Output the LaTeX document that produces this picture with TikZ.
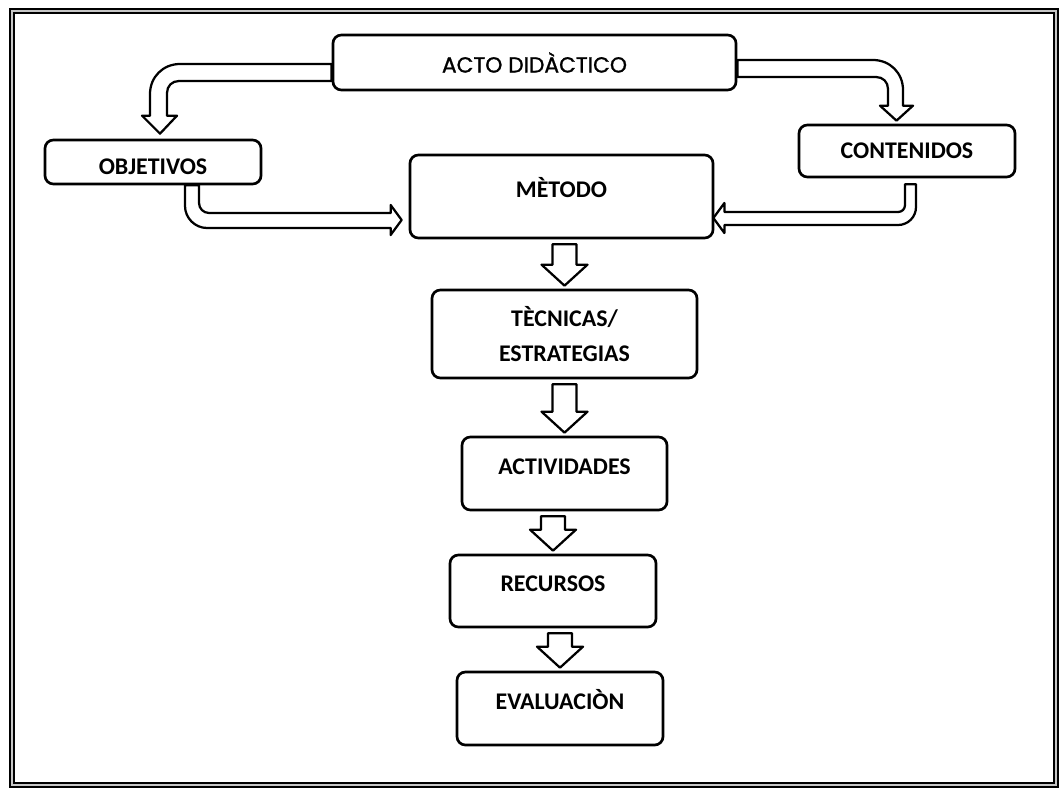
\documentclass[tikz,border=0pt]{standalone}
\usepackage{fontspec}
\setmainfont{Carlito}
\newfontfamily\actofont{Poppins}[FakeBold=1.2]
\usetikzlibrary{calc}

\tikzset{
    box/.style={draw, line width=1.9pt, rounded corners=6pt, align=center, inner sep=0pt,
        font=\bfseries\fontsize{17}{25.5}\selectfont},
    raised/.style={text height=11pt, text depth=10pt},
    lowered/.style={text height=18pt, text depth=0pt},
    blockarrow/.style={draw, fill=white, line width=1.6pt, line join=round},
    frame/.style={draw=black, line width=1.2pt, double=gray!45, double distance=1.6pt}
}

% straight hollow arrow pointing down from #1 to #2
\newcommand{\downblock}[2]{%
    \draw[blockarrow] ($(#2.north |- #1.south)+(-12,5)$) -- ($(#2.north)+(-12,-24)$)
        -- ++(-11,0) -- ($(#2.north)+(0,-3)$) -- ($(#2.north)+(23,-24)$) -- ++(-11,0)
        -- ($(#2.north |- #1.south)+(12,5)$) -- cycle;
}

\begin{document}
\begin{tikzpicture}[x=0.025cm, y=-0.025cm]
    \useasboundingbox (0,0) rectangle (1062,789);
    \draw[frame] (12,11) rectangle (1056,785);

    \node[box, minimum width=10.075cm, minimum height=1.375cm,
        font=\actofont\fontsize{15.5}{18}\selectfont] (acto) at (534.5,62.5) {ACTO DID\`ACTICO};
    \node[box, lowered, minimum width=5.4cm, minimum height=1.1cm] (obj) at (153,162) {OBJETIVOS};
    \node[box, minimum width=5.4cm, minimum height=1.3cm] (cont) at (907,151) {CONTENIDOS};
    \node[box, raised, minimum width=7.575cm, minimum height=2.075cm] (met) at (561.5,196.5) {M\`ETODO};
    \node[box, minimum width=6.625cm, minimum height=2.2cm] (tec) at (564.5,334) {T\`ECNICAS/\\ESTRATEGIAS};
    \node[box, raised, minimum width=5.125cm, minimum height=1.825cm] (act) at (564.5,473.5) {ACTIVIDADES};
    \node[box, raised, minimum width=5.15cm, minimum height=1.8cm] (rec) at (553,591) {RECURSOS};
    \node[box, raised, minimum width=5.15cm, minimum height=1.825cm] (eva) at (560,708.5) {EVALUACI\`ON};

    % tips and bends of the bent arrows
    \coordinate (t1) at ($(obj.north)+(7,-5)$);
    \coordinate (o1) at ($(t1 |- acto.west)+(-10,1.5)$);
    \coordinate (i1) at ($(t1 |- acto.west)+(7,18.5)$);
    \coordinate (t2) at ($(cont.north)+(-10.5,-3)$);
    \coordinate (o2) at ($(t2 |- acto.east)+(6.5,-2.5)$);
    \coordinate (i2) at ($(t2 |- acto.east)+(-8.5,14.5)$);
    \coordinate (t3) at ($(met.west)+(-7,23.5)$);
    \coordinate (o3) at ($(obj.south |- t3)+(32,8)$);
    \coordinate (i3) at ($(obj.south |- t3)+(46,-7)$);
    \coordinate (t4) at ($(met.east)+(-1,21.5)$);
    \coordinate (o4) at ($(cont.south |- t4)+(9,7)$);
    \coordinate (i4) at ($(cont.south |- t4)+(-2,-6)$);

    % acto didactico to both sides
    \draw[blockarrow] ($(acto.west)+(0,1.5)$) -- ($(o1)+(30,0)$)
        .. controls ($(o1)+(13,0)$) and ($(o1)+(0,13)$) .. ($(o1)+(0,30)$)
        -- ($(t1)+(-10,-18)$) -- ($(t1)+(-18,-18)$) -- (t1) -- ($(t1)+(17,-18)$) -- ($(t1)+(7,-18)$)
        -- ($(i1)+(0,12)$) .. controls ($(i1)+(0,5)$) and ($(i1)+(5,0)$) .. ($(i1)+(12,0)$)
        -- ($(acto.west)+(0,18.5)$) -- cycle;
    \draw[blockarrow] ($(acto.east)+(0,-2.5)$) -- ($(o2)+(-30,0)$)
        .. controls ($(o2)+(-13,0)$) and ($(o2)+(0,13)$) .. ($(o2)+(0,30)$)
        -- ($(t2)+(6.5,-15)$) -- ($(t2)+(16.5,-15)$) -- (t2) -- ($(t2)+(-16.5,-15)$) -- ($(t2)+(-8.5,-15)$)
        -- ($(i2)+(0,12)$) .. controls ($(i2)+(0,5)$) and ($(i2)+(-5,0)$) .. ($(i2)+(-12,0)$)
        -- ($(acto.east)+(0,14.5)$) -- cycle;

    % into the method box
    \draw[blockarrow] ($(obj.south)+(32,0)$) -- ($(o3)+(0,-22)$)
        .. controls ($(o3)+(0,-10)$) and ($(o3)+(10,0)$) .. ($(o3)+(22,0)$)
        -- ($(t3)+(-11,8)$) -- ($(t3)+(-11,15)$) -- (t3) -- ($(t3)+(-11,-15)$) -- ($(t3)+(-11,-7)$)
        -- ($(i3)+(10,0)$) .. controls ($(i3)+(4.5,0)$) and ($(i3)+(0,-4.5)$) .. ($(i3)+(0,-10)$)
        -- ($(obj.south)+(46,0)$) -- cycle;
    \draw[blockarrow] ($(cont.south)+(9,6)$) -- ($(o4)+(0,-18)$)
        .. controls ($(o4)+(0,-8)$) and ($(o4)+(-8,0)$) .. ($(o4)+(-18,0)$)
        -- ($(t4)+(11,7)$) -- ($(t4)+(11,15)$) -- (t4) -- ($(t4)+(11,-15)$) -- ($(t4)+(11,-6)$)
        -- ($(i4)+(-7,0)$) .. controls ($(i4)+(-3,0)$) and ($(i4)+(0,-3)$) .. ($(i4)+(0,-7)$)
        -- ($(cont.south)+(-2,6)$) -- cycle;

    \downblock{met}{tec}
    \downblock{tec}{act}
    \downblock{act}{rec}
    \downblock{rec}{eva}
\end{tikzpicture}
\end{document}
